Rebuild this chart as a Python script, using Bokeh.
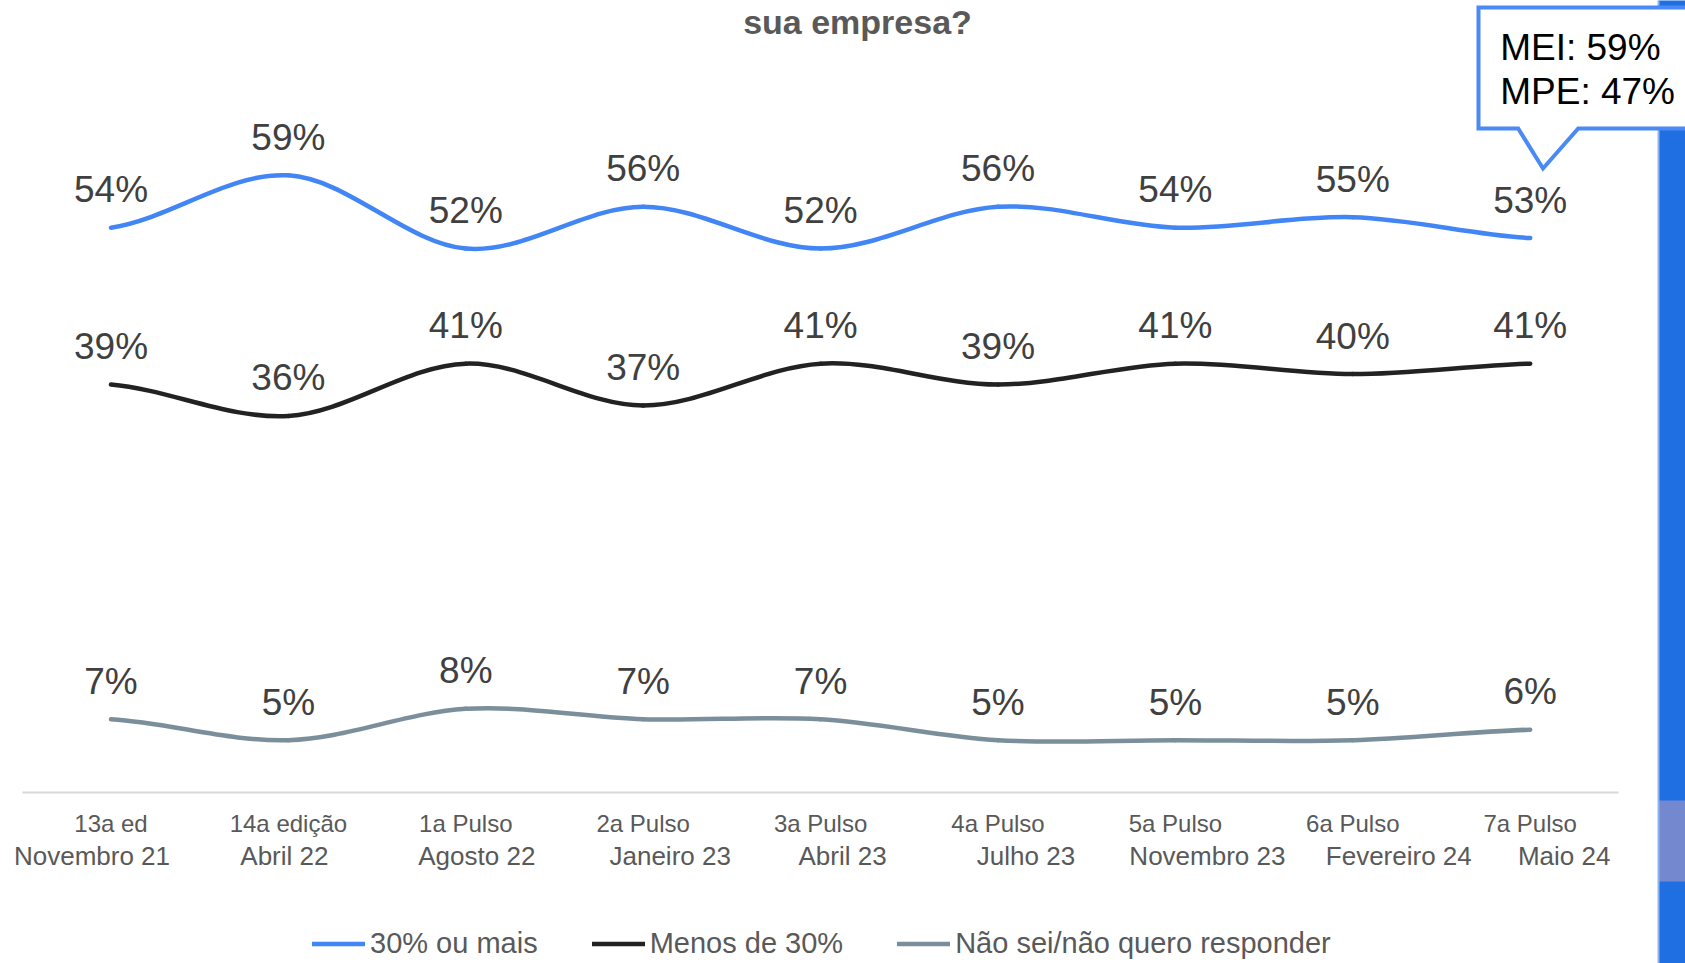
import numpy as np
from bokeh.plotting import figure
from bokeh.models import (Range1d, LinearAxis, FixedTicker, Legend, LegendItem,
                          ColumnDataSource, Label)
from bokeh.core.properties import value
from bokeh.embed import file_html
from bokeh.resources import INLINE

# ---------------- data ----------------
categorias_l1 = ["13a ed", "14a edição", "1a Pulso", "2a Pulso", "3a Pulso",
                 "4a Pulso", "5a Pulso", "6a Pulso", "7a Pulso"]
categorias_l2 = ["Novembro 21", "Abril 22", "Agosto 22", "Janeiro 23", "Abril 23",
                 "Julho 23", "Novembro 23", "Fevereiro 24", "Maio 24"]
serie_30_ou_mais = [54, 59, 52, 56, 52, 56, 54, 55, 53]
serie_menos_30 = [39, 36, 41, 37, 41, 39, 41, 40, 41]
serie_nao_sei = [7, 5, 8, 7, 7, 5, 5, 5, 6]
nomes_series = ["30% ou mais", "Menos de 30%", "Não sei/não quero responder"]
callout_linhas = ["MEI: 59%", "MPE: 47%"]
titulo = "sua empresa?"

# ---------------- styles / layout ----------------
cores = ["#4285f4", "#222222", "#7a8f9b"]
desloc_l2 = [-19, -4, 11, 27, 22, 28, 32, 46, 34]   # pixel nudges of 2nd label line
FONT = "Liberation Sans"
W, H = 1685, 963
X0_PX, DX = 110.5, 177.4       # screen px of first category, px per category
Y0_PX, DY = 792.0, 10.46       # screen px of 0 %, px per percentage point


def xd(px):
    return (px - X0_PX) / DX


def yd(py):
    return (Y0_PX - py) / DY


n = len(categorias_l1)
idx = np.arange(n, dtype=float)

p = figure(width=W, height=H, x_range=Range1d(xd(0), xd(W)), y_range=Range1d(yd(H), yd(0)),
           output_backend="svg", toolbar_location=None,
           x_axis_location=None, y_axis_location=None, min_border=0,
           outline_line_color=None, background_fill_color="white",
           border_fill_color="white")
p.grid.visible = False

# category axis (first label line)
xaxis = LinearAxis(ticker=FixedTicker(ticks=list(range(n))),
                   major_label_overrides={i: c for i, c in enumerate(categorias_l1)},
                   fixed_location=0, bounds=(-0.5, n - 0.5),
                   axis_line_color="#d9d9d9", axis_line_width=2,
                   major_tick_line_color=None, minor_tick_line_color=None,
                   major_tick_out=0, major_tick_in=0, minor_tick_out=0,
                   major_label_standoff=17,
                   major_label_text_font_size="24px",
                   major_label_text_color="#595959",
                   major_label_text_font=FONT)
p.add_layout(xaxis, "below")

# second label line
src_l2 = ColumnDataSource(dict(x=idx, y=np.zeros(n), t=categorias_l2, dx=desloc_l2))
p.text(x="x", y="y", text="t", x_offset="dx", y_offset=63, source=src_l2,
       text_align="center", text_baseline="middle", text_font=value(FONT),
       text_font_size="26px", text_color="#595959")


def bezier_src(vals):
    y = np.array(vals, dtype=float)
    m = np.empty(len(y))
    m[1:-1] = (y[2:] - y[:-2]) / 2.0
    m[0] = (y[1] - y[0]) / 2.0
    m[-1] = (y[-1] - y[-2]) / 2.0
    return ColumnDataSource(dict(x0=idx[:-1], y0=y[:-1], x1=idx[1:], y1=y[1:],
                                 cx0=idx[:-1] + 1 / 3, cy0=y[:-1] + m[:-1] / 3,
                                 cx1=idx[1:] - 1 / 3, cy1=y[1:] - m[1:] / 3))


# blue strip at right edge (slide decoration)
p.quad(left=xd(1658), right=xd(W + 10), top=yd(-10), bottom=yd(H + 10),
       fill_color="#1f6fe2", line_color=None)
p.quad(left=xd(1658), right=xd(W + 10), top=yd(800), bottom=yd(881),
       fill_color="#7488cf", line_color=None)
p.quad(left=xd(1657), right=xd(1659), top=yd(-10), bottom=yd(H + 10),
       fill_color="#8db5f3", line_color=None)

renderers = []
for vals, cor in zip([serie_30_ou_mais, serie_menos_30, serie_nao_sei], cores):
    r = p.bezier(x0="x0", y0="y0", x1="x1", y1="y1", cx0="cx0", cy0="cy0",
                 cx1="cx1", cy1="cy1", source=bezier_src(vals),
                 line_color=cor, line_width=4.5, line_cap="round")
    renderers.append(r)
    src = ColumnDataSource(dict(x=idx, y=vals, t=[f"{v}%" for v in vals]))
    p.text(x="x", y="y", text="t", source=src, text_align="center",
           text_baseline="middle", y_offset=-38, text_font=value(FONT),
           text_font_size="37px", text_color="#404040")

# callout attached to the last point of the first series
ax = X0_PX + (n - 1) * DX
ay = Y0_PX - serie_30_ou_mais[-1] * DY
box_top, box_bottom = 7, ay - 109.6
box_left, box_right = ax - 51.7, W + 30
pts = [(box_left, box_top), (box_right, box_top), (box_right, box_bottom),
       (ax + 48, box_bottom), (ax + 12.8, ay - 69.6), (ax - 12, box_bottom),
       (box_left, box_bottom)]
p.patch(x=[xd(a) for a, b in pts], y=[yd(b) for a, b in pts], fill_color="white",
        line_color="#4a8af4", line_width=4, line_join="miter")
p.text(x=[xd(ax - 30)] * 2, y=[yd(ay - 190.6), yd(ay - 146.6)], text=callout_linhas,
       text_align="left", text_baseline="middle", text_font=value(FONT),
       text_font_size="37px", text_color="#000000")

# title (cut off at the top of the slide; kept visible here)
p.add_layout(Label(x=xd(857), y=yd(2), text=titulo, text_align="center",
                   text_baseline="top", text_font=FONT, text_font_size="34px",
                   text_font_style="bold", text_color="#595959"))

legend = Legend(items=[LegendItem(label=nm, renderers=[r]) for nm, r in zip(nomes_series, renderers)],
                orientation="horizontal", location=(312, 3),
                glyph_width=53, glyph_height=29, label_height=29, label_standoff=5,
                spacing=54, padding=0, margin=0, border_line_color=None,
                background_fill_alpha=0, label_text_font=FONT,
                label_text_font_size="29px", label_text_color="#595959")
p.add_layout(legend)

open("out.html", "w").write(file_html(p, INLINE))
